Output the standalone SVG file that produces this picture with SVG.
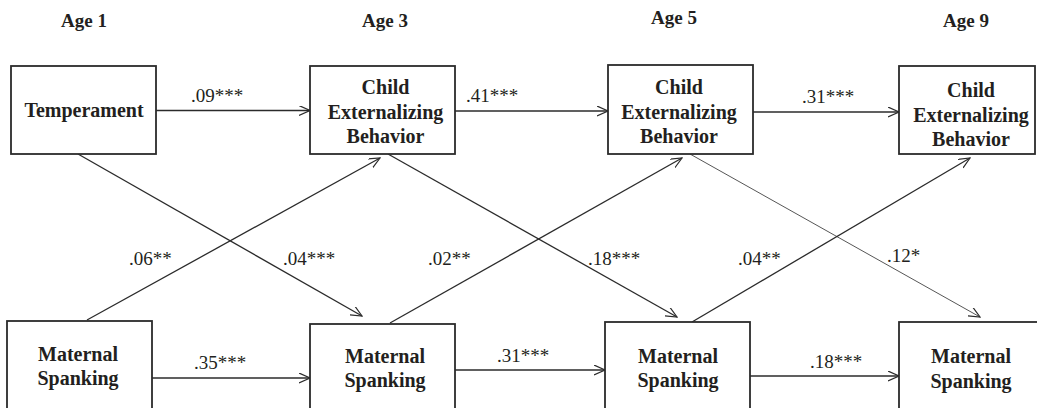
<svg xmlns="http://www.w3.org/2000/svg" width="1037" height="408" viewBox="0 0 1037 408">
<style>
.box{fill:#fff;stroke:#2b2b2b;stroke-width:1.8}
text{font-family:'Liberation Serif','Times New Roman',Times,serif;fill:#231f20}
.nt{font-weight:bold;font-size:20px;text-anchor:middle}
.hd{font-weight:bold;font-size:19px;text-anchor:middle}
.lb{font-size:19px}
.ln{stroke:#2b2b2b;stroke-width:1.3;fill:none;marker-end:url(#ah)}
.thin{stroke-width:0.8}
</style>
<defs>
<marker id="ah" markerWidth="12" markerHeight="12" refX="11" refY="5" orient="auto" markerUnits="userSpaceOnUse">
<path d="M0,0 L11,5 L0,10" fill="none" stroke="#2b2b2b" stroke-width="1.2"/>
</marker>
</defs>
<g id="headers">
<text class="hd" x="84" y="27">Age 1</text>
<text class="hd" x="385" y="27">Age 3</text>
<text class="hd" x="674" y="24">Age 5</text>
<text class="hd" x="966" y="27">Age 9</text>
</g>
<g id="connectors">
<line class="ln" x1="156" y1="110.5" x2="310" y2="110.5"/>
<line class="ln" x1="455" y1="111" x2="608" y2="111"/>
<line class="ln" x1="753" y1="112" x2="899" y2="112"/>
<line class="ln" x1="152" y1="378" x2="310" y2="378"/>
<line class="ln" x1="455" y1="370" x2="605" y2="370"/>
<line class="ln" x1="750" y1="376" x2="899" y2="376"/>
<line class="ln" x1="78" y1="154" x2="362" y2="316"/>
<line class="ln" x1="87" y1="320" x2="380" y2="158"/>
<line class="ln" x1="388" y1="154" x2="677" y2="317"/>
<line class="ln" x1="390" y1="323" x2="682" y2="158"/>
<line class="ln thin" x1="690" y1="154" x2="980" y2="317"/>
<line class="ln" x1="692" y1="322" x2="970" y2="158"/>
<text class="lb" x="191" y="101.5">.09***</text>
<text class="lb" x="466" y="102">.41***</text>
<text class="lb" x="802" y="103">.31***</text>
<text class="lb" x="194" y="369">.35***</text>
<text class="lb" x="497" y="362">.31***</text>
<text class="lb" x="810" y="368">.18***</text>
<text class="lb" x="129" y="265">.06**</text>
<text class="lb" x="283" y="265">.04***</text>
<text class="lb" x="428" y="265">.02**</text>
<text class="lb" x="588" y="265">.18***</text>
<text class="lb" x="738" y="265">.04**</text>
<text class="lb" x="887" y="262">.12*</text>
</g>
<g id="temperament">
<rect class="box" x="11" y="66" width="145" height="88"/>
<text class="nt" x="84" y="117">Temperament</text>
</g>
<g id="child3">
<rect class="box" x="310" y="66" width="145" height="88"/>
<text class="nt" x="385.5" y="94">Child</text>
<text class="nt" x="385.5" y="119">Externalizing</text>
<text class="nt" x="385.5" y="143">Behavior</text>
</g>
<g id="child5">
<rect class="box" x="608" y="65" width="145" height="89"/>
<text class="nt" x="679" y="94">Child</text>
<text class="nt" x="679" y="119">Externalizing</text>
<text class="nt" x="679" y="143">Behavior</text>
</g>
<g id="child9">
<rect class="box" x="899" y="66" width="136" height="88"/>
<text class="nt" x="971" y="97">Child</text>
<text class="nt" x="971" y="122">Externalizing</text>
<text class="nt" x="971" y="146">Behavior</text>
</g>
<g id="spank1">
<rect class="box" x="7" y="321" width="145" height="100"/>
<text class="nt" x="78" y="361">Maternal</text>
<text class="nt" x="78" y="385">Spanking</text>
</g>
<g id="spank3">
<rect class="box" x="310" y="324" width="145" height="100"/>
<text class="nt" x="385" y="363">Maternal</text>
<text class="nt" x="385" y="387">Spanking</text>
</g>
<g id="spank5">
<rect class="box" x="605" y="322" width="145" height="100"/>
<text class="nt" x="678" y="363">Maternal</text>
<text class="nt" x="678" y="387">Spanking</text>
</g>
<g id="spank9">
<rect class="box" x="899" y="322" width="145" height="100"/>
<text class="nt" x="971" y="363">Maternal</text>
<text class="nt" x="971" y="388">Spanking</text>
</g>
</svg>
